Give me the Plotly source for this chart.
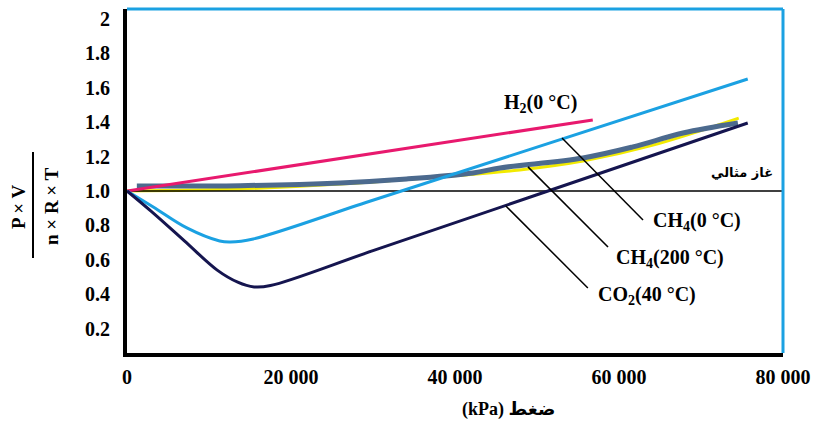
import plotly.graph_objects as go

# ---- data ----
h2_x = [0, 56800]
h2_y = [1.0, 1.413]

ch4_0_x = [0, 3200, 7300, 11300, 12600, 15400, 29600, 50000, 75700]
ch4_0_y = [1.0, 0.907, 0.785, 0.709, 0.703, 0.721, 0.94, 1.255, 1.651]

co2_x = [0, 3000, 7000, 11000, 13500, 15500, 17500, 30000, 50000, 75700]
co2_y = [1.0, 0.88, 0.71, 0.54, 0.47, 0.442, 0.45, 0.653, 0.978, 1.395]

ch4_200_x = [0, 13800, 26000, 39400, 47900, 55600, 63800, 74600]
ch4_200_y = [1.0, 1.012, 1.04, 1.087, 1.122, 1.174, 1.262, 1.424]

slate_x = [1200, 13800, 26000, 34100, 42200, 45500, 55600, 61700, 67800, 74500]
slate_y = [1.029, 1.031, 1.047, 1.07, 1.105, 1.134, 1.192, 1.256, 1.337, 1.395]

ideal_x = [0, 80000]
ideal_y = [1.0, 1.0]

x_tickvals = [0, 20000, 40000, 60000, 80000]
x_ticktext = ["0", "20 000", "40 000", "60 000", "80 000"]
y_tickvals = [0.2, 0.4, 0.6, 0.8, 1.0, 1.2, 1.4, 1.6, 1.8, 2.0]
y_ticktext = ["0.2", "0.4", "0.6", "0.8", "1.0", "1.2", "1.4", "1.6", "1.8", "2"]

LB = "#1BA1E2"
PINK = "#E8196E"
NAVY = "#15154F"
SLATE = "#4C6A8E"
YEL = "#F2EA00"
SERIF = "Liberation Serif, Times New Roman, serif"

fig = go.Figure()
fig.add_trace(go.Scatter(x=ch4_200_x, y=ch4_200_y, mode="lines", line=dict(color=YEL, width=3, shape="spline"), name="CH4(200 °C)"))
fig.add_trace(go.Scatter(x=ideal_x, y=ideal_y, mode="lines", line=dict(color="black", width=1.5), name="ideal"))
fig.add_trace(go.Scatter(x=slate_x, y=slate_y, mode="lines", line=dict(color=SLATE, width=5, shape="spline"), name="slate"))
fig.add_trace(go.Scatter(x=h2_x, y=h2_y, mode="lines", line=dict(color=PINK, width=3), name="H2(0 °C)"))
fig.add_trace(go.Scatter(x=ch4_0_x, y=ch4_0_y, mode="lines", line=dict(color=LB, width=3, shape="spline"), name="CH4(0 °C)"))
fig.add_trace(go.Scatter(x=co2_x, y=co2_y, mode="lines", line=dict(color=NAVY, width=3, shape="spline"), name="CO2(40 °C)"))

lblfont = dict(family=SERIF, size=20, color="black", weight=700)

# leader lines
for (x0, y0, x1, y1) in [(53050, 1.308, 62930, 0.831),
                         (48900, 1.14, 58660, 0.674),
                         (46200, 0.913, 56200, 0.436)]:
    fig.add_shape(type="line", xref="x", yref="y", x0=x0, y0=y0, x1=x1, y1=y1,
                  line=dict(color="black", width=1.5))

fig.add_annotation(x=50400, y=1.506, text="H<sub>2</sub>(0 °C)", showarrow=False, font=lblfont)
fig.add_annotation(x=69500, y=0.82, text="CH<sub>4</sub>(0 °C)", showarrow=False, font=lblfont)
fig.add_annotation(x=66200, y=0.61, text="CH<sub>4</sub>(200 °C)", showarrow=False, font=lblfont)
fig.add_annotation(x=63400, y=0.395, text="CO<sub>2</sub>(40 °C)", showarrow=False, font=lblfont)
fig.add_annotation(x=79000, y=1.11, text="غاز مثالي", showarrow=False, xanchor="right",
                   font=dict(family="DejaVu Sans, sans-serif", size=13, color="black", weight=700))

# x-axis title
fig.add_annotation(xref="paper", yref="paper", x=(508 - 127) / 656, y=(353 - 409) / 344,
                   xanchor="center", yanchor="middle",
                   text="(kPa) ضغط", showarrow=False,
                   font=dict(family=SERIF + ", DejaVu Sans", size=18, color="black", weight=700))

# y-axis title (fraction)
fig.add_annotation(xref="paper", yref="paper", x=(18 - 127) / 656, y=(353 - 207) / 344,
                   xanchor="center", yanchor="middle",
                   text="P × V", textangle=-90, showarrow=False,
                   font=dict(family=SERIF, size=19, color="black", weight=700))
fig.add_annotation(xref="paper", yref="paper", x=(51 - 127) / 656, y=(353 - 206) / 344,
                   xanchor="center", yanchor="middle",
                   text="n × R × T",
                   textangle=-90, showarrow=False,
                   font=dict(family=SERIF, size=19, color="black", weight=700))
fig.add_shape(type="line", xref="paper", yref="paper",
              x0=(33 - 127) / 656, x1=(33 - 127) / 656, y0=(353 - 152) / 344, y1=(353 - 258) / 344,
              line=dict(color="black", width=2))

# top and right blue borders
fig.add_shape(type="line", xref="paper", yref="paper", x0=0, x1=1, y0=1, y1=1,
              line=dict(color=LB, width=3))
fig.add_shape(type="line", xref="paper", yref="paper", x0=1, x1=1, y0=0, y1=1,
              line=dict(color=LB, width=3))

fig.update_layout(
    width=819, height=423,
    margin=dict(l=127, r=36, t=9, b=70),
    plot_bgcolor="white", paper_bgcolor="white",
    showlegend=False,
    xaxis=dict(range=[0, 80000], tickvals=x_tickvals, ticktext=x_ticktext,
               showgrid=False, zeroline=False, ticks="",
               showline=True, linecolor="black", linewidth=4,
               tickfont=dict(family=SERIF, size=20, color="black", weight=700),
               ticklabelstandoff=3),
    yaxis=dict(range=[0.058, 2.058], tickvals=y_tickvals, ticktext=y_ticktext,
               showgrid=False, zeroline=False, ticks="",
               showline=True, linecolor="black", linewidth=4,
               tickfont=dict(family=SERIF, size=20, color="black", weight=700),
               ticklabelstandoff=9),
)

fig.write_html("out.html", config={"displayModeBar": False},
               post_script="document.body.style.margin='0';document.body.style.overflow='hidden';")
